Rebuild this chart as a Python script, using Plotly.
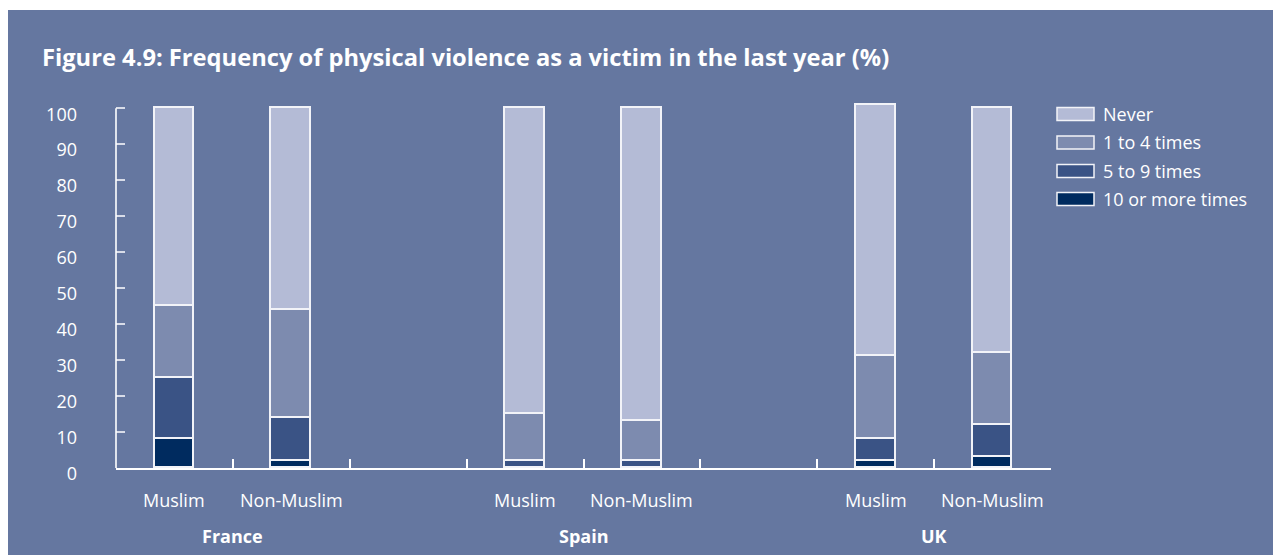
import plotly.graph_objects as go

# ---------------- data ----------------
countries = ["France", "Spain", "UK"]
groups = ["Muslim", "Non-Muslim"]
series_names = ["Never", "1 to 4 times", "5 to 9 times", "10 or more times"]
# order: France Muslim, France Non-Muslim, Spain Muslim, Spain Non-Muslim, UK Muslim, UK Non-Muslim
never = [55, 56, 85, 87, 70, 68]
times_1_4 = [20, 30, 13, 11, 23, 20]
times_5_9 = [17, 12, 2, 2, 6, 9]
times_10_plus = [8, 2, 0, 0, 2, 3]
y_tick_values = [0, 10, 20, 30, 40, 50, 60, 70, 80, 90, 100]

# ---------------- style ----------------
BG = "#6577A0"
colors = {"Never": "#B4BBD6", "1 to 4 times": "#7D8BAF",
          "5 to 9 times": "#3A5385", "10 or more times": "#002B5F"}
FONT = "Open Sans"
W, H = 1281, 555
OFF = 8  # page body margin offset
L = 116 - OFF
R = W - (1051 - OFF)
T = int(round(100.8 - OFF))
B = H - (468 - OFF)
PW, PH = W - L - R, H - T - B

def px2x(px):  # px measured in page coordinates
    return (px - OFF - L) / PW

def px2y(py):
    return (H - B - (py - OFF)) / PH

# slot positions: one empty slot between countries
slots = [i * (len(groups) + 1) + j for i in range(len(countries)) for j in range(len(groups))]
n_slots = len(countries) * (len(groups) + 1) - 1

series_values = {"10 or more times": times_10_plus, "5 to 9 times": times_5_9,
                 "1 to 4 times": times_1_4, "Never": never}

fig = go.Figure()
for name in ["10 or more times", "5 to 9 times", "1 to 4 times", "Never"]:
    fig.add_trace(go.Bar(
        x=slots, y=series_values[name], name=name, width=0.34,
        marker=dict(color=colors[name], line=dict(color="#F2F3F8", width=1.6)),
        showlegend=False,
    ))

shapes = []
# background panel
shapes.append(dict(type="rect", xref="paper", yref="paper", layer="below",
                   x0=px2x(8), x1=px2x(W + 20), y0=px2y(H + 20), y1=px2y(10),
                   fillcolor=BG, line=dict(width=0)))
# y axis line
shapes.append(dict(type="line", xref="paper", yref="y", x0=0, x1=0, y0=0, y1=100,
                   line=dict(color="white", width=1.6)))

annotations = []
for k, (i, j) in enumerate([(i, j) for i in range(len(countries)) for j in range(len(groups))]):
    annotations.append(dict(x=slots[k], y=0, xref="x", yref="paper", yshift=-32,
                            text=groups[j], showarrow=False, yanchor="middle",
                            font=dict(family=FONT, size=18, color="white")))
for i, c in enumerate(countries):
    annotations.append(dict(x=i * (len(groups) + 1) + (len(groups) - 1) / 2, y=0,
                            xref="x", yref="paper", yshift=-68,
                            text="<b>" + c + "</b>", showarrow=False, yanchor="middle",
                            font=dict(family=FONT, size=18, color="white")))

# legend (manual)
legend_rows = [114, 142.5, 171, 199]
for name, ry in zip(series_names, legend_rows):
    shapes.append(dict(type="rect", xref="paper", yref="paper",
                       x0=px2x(1057), x1=px2x(1094), y0=px2y(ry + 6.5), y1=px2y(ry - 6.5),
                       fillcolor=colors[name], line=dict(color="#F2F3F8", width=1.5)))
    annotations.append(dict(x=px2x(1101), y=px2y(ry), xref="paper", yref="paper",
                            xanchor="left", yanchor="middle", text=name, showarrow=False,
                            font=dict(family=FONT, size=18, color="white")))

fig.update_layout(
    width=W, height=H, autosize=False,
    margin=dict(l=L, r=R, t=T, b=B, pad=0),
    paper_bgcolor="white", plot_bgcolor="rgba(0,0,0,0)",
    barmode="stack", bargap=0,
    title=dict(text="<b>Figure 4.9: Frequency of physical violence as a victim in the last year (%)</b>",
               x=(42 - OFF) / W, xanchor="left", xref="container",
               y=1 - (58 - OFF) / H, yanchor="middle", yref="container",
               font=dict(family=FONT, size=23.7, color="white")),
    xaxis=dict(range=[-0.5, n_slots - 0.5],
               tickvals=[s + 0.5 for s in range(n_slots)], ticktext=[""] * n_slots,
               ticks="inside", ticklen=9, tickwidth=1.6, tickcolor="white",
               showline=True, linecolor="white", linewidth=1.6,
               showgrid=False, zeroline=False, fixedrange=True),
    yaxis=dict(range=[0, 102], tickvals=y_tick_values,
               ticks="inside", ticklen=9, tickwidth=1.6, tickcolor="#D8DCE8",
               showline=False, showgrid=False, zeroline=False,
               tickfont=dict(family=FONT, size=18, color="white"),
               ticklabelstandoff=38, ticklabelshift=6, fixedrange=True),
    shapes=shapes, annotations=annotations,
)

fig.write_html("out.html")
